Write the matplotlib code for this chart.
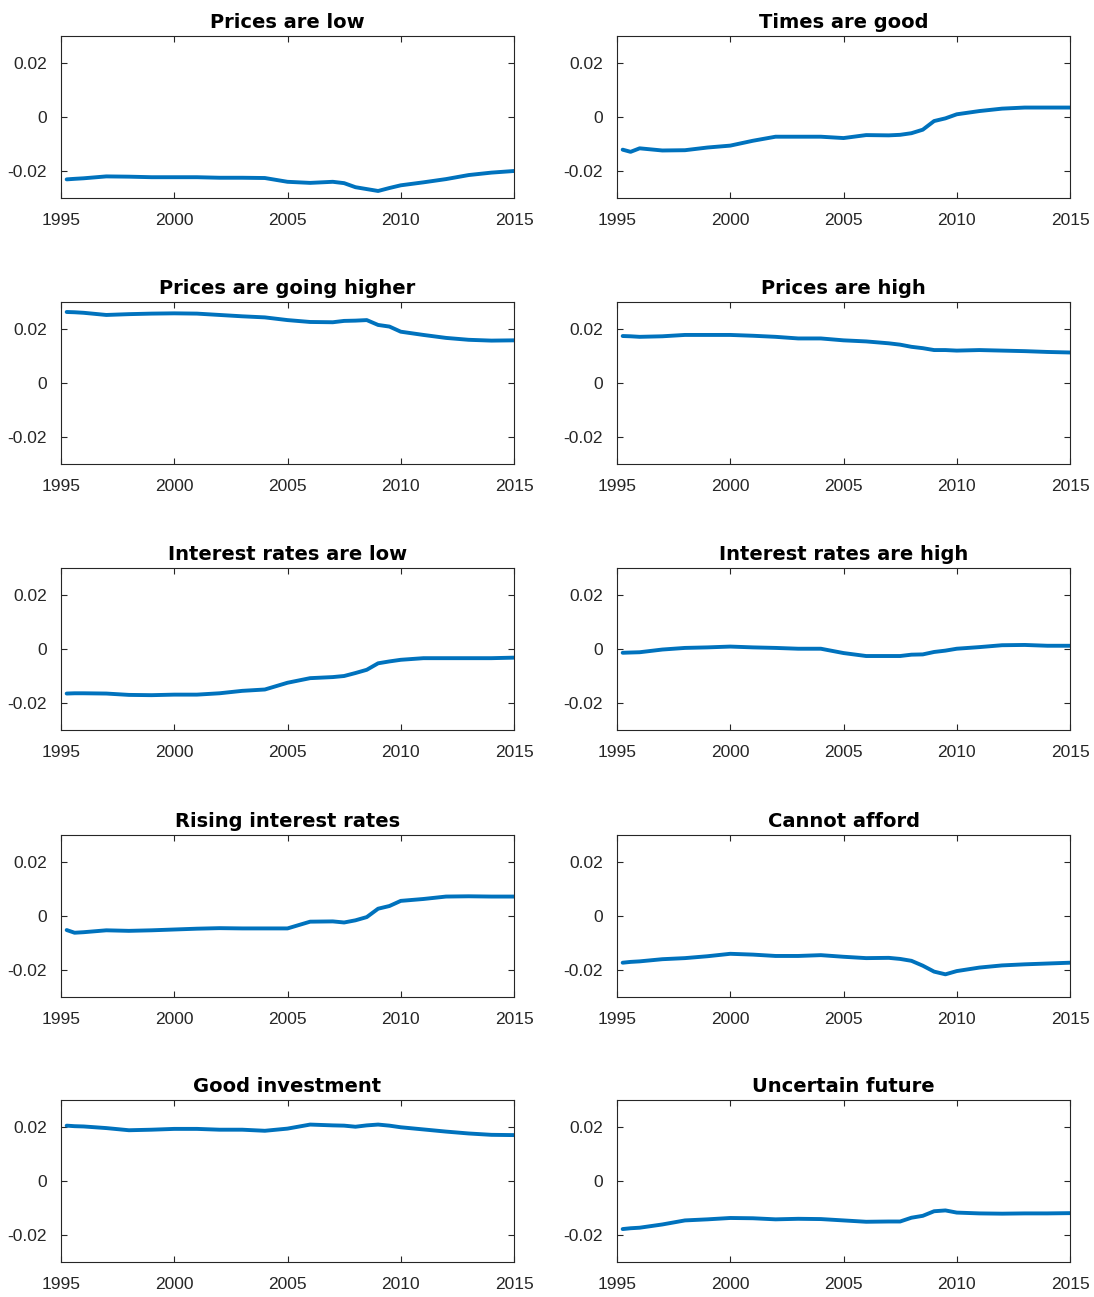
import numpy as np
import matplotlib
matplotlib.use("Agg")
import matplotlib.pyplot as plt

# common time grid (years)
years = [1995.25, 1995.6, 1996, 1997, 1998, 1999, 2000, 2001, 2002, 2003, 2004,
         2005, 2006, 2007, 2007.5, 2008, 2008.5, 2009, 2009.5, 2010,
         2011, 2012, 2013, 2014, 2015]

titles = ["Prices are low", "Times are good",
          "Prices are going higher", "Prices are high",
          "Interest rates are low", "Interest rates are high",
          "Rising interest rates", "Cannot afford",
          "Good investment", "Uncertain future"]

prices_low = [-0.0231, -0.0229, -0.0227, -0.0220, -0.0221, -0.0223, -0.0223, -0.0223, -0.0225, -0.0225, -0.0226,
              -0.0240, -0.0244, -0.0240, -0.0245, -0.0260, -0.0267, -0.0274, -0.0263, -0.0253,
              -0.0242, -0.0230, -0.0215, -0.0206, -0.0200]
times_good = [-0.0121, -0.0129, -0.0116, -0.0124, -0.0123, -0.0113, -0.0106, -0.0088, -0.0073, -0.0073, -0.0073,
              -0.0078, -0.0067, -0.0068, -0.0066, -0.0060, -0.0047, -0.0015, -0.0005, 0.0010,
              0.0022, 0.0031, 0.0035, 0.0035, 0.0035]
prices_going_higher = [0.0263, 0.0262, 0.0260, 0.0252, 0.0255, 0.0257, 0.0258, 0.0257, 0.0252, 0.0247, 0.0243,
                       0.0233, 0.0226, 0.0225, 0.0230, 0.0231, 0.0233, 0.0215, 0.0209, 0.0190,
                       0.0178, 0.0167, 0.0160, 0.0157, 0.0158]
prices_high = [0.0174, 0.0173, 0.0171, 0.0173, 0.0178, 0.0178, 0.0178, 0.0175, 0.0171, 0.0165, 0.0165,
               0.0158, 0.0154, 0.0147, 0.0142, 0.0134, 0.0129, 0.0122, 0.0122, 0.0120,
               0.0122, 0.0120, 0.0118, 0.0115, 0.0113]
rates_low = [-0.0165, -0.0164, -0.0164, -0.0165, -0.0170, -0.0171, -0.0169, -0.0169, -0.0164, -0.0155, -0.0150,
             -0.0125, -0.0108, -0.0104, -0.0100, -0.0089, -0.0077, -0.0053, -0.0046, -0.0040,
             -0.0034, -0.0034, -0.0034, -0.0034, -0.0032]
rates_high = [-0.0014, -0.0013, -0.0012, -0.0002, 0.0004, 0.0006, 0.0009, 0.0006, 0.0004, 0.0001, 0.0001,
              -0.0015, -0.0026, -0.0026, -0.0026, -0.0021, -0.0020, -0.0011, -0.0006, 0.0001,
              0.0007, 0.0014, 0.0015, 0.0012, 0.0012]
rising_rates = [-0.0052, -0.0062, -0.0060, -0.0053, -0.0055, -0.0053, -0.0050, -0.0047, -0.0045, -0.0046, -0.0046,
                -0.0046, -0.0021, -0.0020, -0.0024, -0.0016, -0.0004, 0.0027, 0.0037, 0.0056,
                0.0063, 0.0072, 0.0073, 0.0072, 0.0072]
cannot_afford = [-0.0173, -0.0170, -0.0168, -0.0160, -0.0156, -0.0149, -0.0140, -0.0143, -0.0148, -0.0148, -0.0145,
                 -0.0151, -0.0156, -0.0155, -0.0159, -0.0166, -0.0184, -0.0206, -0.0216, -0.0204,
                 -0.0191, -0.0183, -0.0179, -0.0176, -0.0173]
good_investment = [0.0205, 0.0203, 0.0202, 0.0196, 0.0188, 0.0190, 0.0193, 0.0193, 0.0190, 0.0190, 0.0186,
                   0.0194, 0.0209, 0.0206, 0.0205, 0.0201, 0.0206, 0.0209, 0.0205, 0.0199,
                   0.0191, 0.0183, 0.0176, 0.0171, 0.0170]
uncertain_future = [-0.0178, -0.0175, -0.0173, -0.0161, -0.0146, -0.0142, -0.0137, -0.0138, -0.0142, -0.0140, -0.0141,
                    -0.0146, -0.0151, -0.0150, -0.0150, -0.0136, -0.0129, -0.0112, -0.0109, -0.0117,
                    -0.0120, -0.0121, -0.0120, -0.0120, -0.0119]

series = [prices_low, times_good, prices_going_higher, prices_high,
          rates_low, rates_high, rising_rates, cannot_afford,
          good_investment, uncertain_future]

xticks = [1995, 2000, 2005, 2010, 2015]
yticks = [-0.02, 0, 0.02]
ytick_labels = ["-0.02", "0", "0.02"]

plt.rcParams['font.family'] = ['Liberation Sans', 'DejaVu Sans']

W, H = 1094, 1297
fig = plt.figure(figsize=(W / 100, H / 100), dpi=100)

lefts = [61, 617]
tops = [36, 302, 568, 835, 1100]
ax_w, ax_h = 453, 162
grey = '#262626'

for i, (title, vals) in enumerate(zip(titles, series)):
    r, c = divmod(i, 2)
    ax = fig.add_axes([lefts[c] / W, 1 - (tops[r] + ax_h) / H, ax_w / W, ax_h / H])
    ax.plot(years, vals, color='#0072BD', linewidth=2.8, solid_capstyle='round')
    ax.set_xlim(1995, 2015)
    ax.set_ylim(-0.03, 0.03)
    ax.set_xticks(xticks)
    ax.set_yticks(yticks)
    ax.set_yticklabels(ytick_labels)
    ax.tick_params(direction='in', top=True, right=True, length=4, width=0.8,
                   colors=grey, labelsize=12.5)
    ax.tick_params(axis='x', pad=11)
    ax.tick_params(axis='y', pad=10)
    for s in ax.spines.values():
        s.set_color(grey)
        s.set_linewidth(0.8)
    ax.set_title(title, fontsize=14, fontweight='bold', pad=6,
                 family=['DejaVu Sans'])

plt.savefig("out.png", dpi=100)
